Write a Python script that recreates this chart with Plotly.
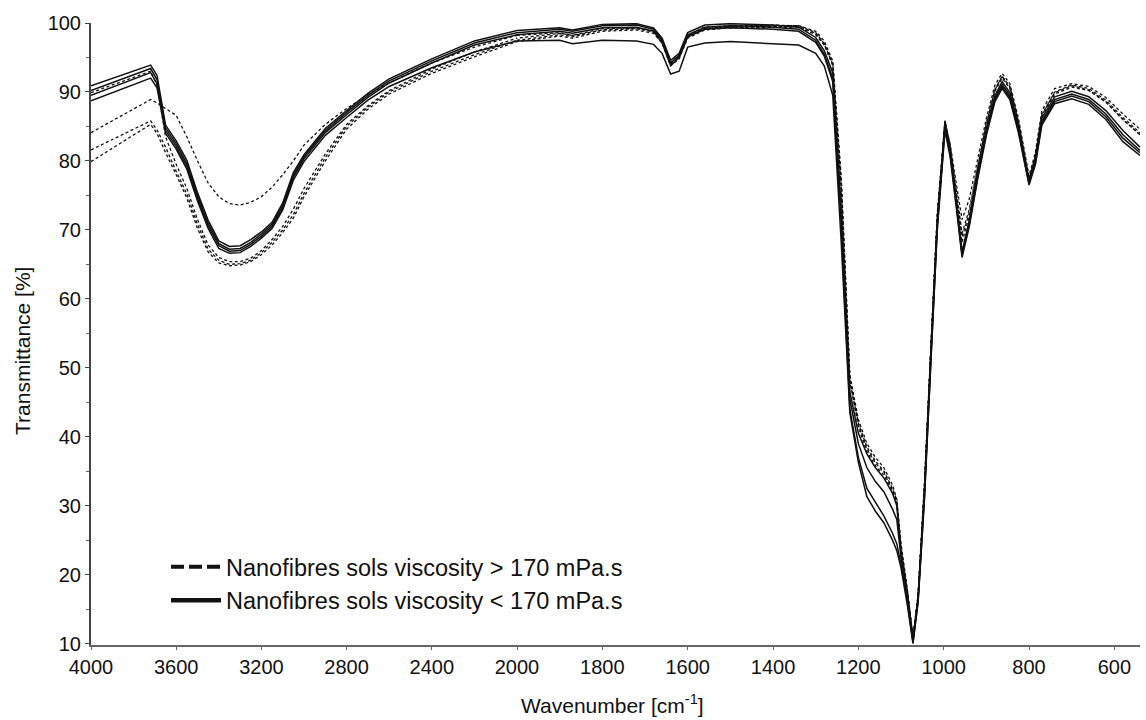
import plotly.graph_objects as go

# ---------------- data ----------------
WN = [4000, 3720, 3690, 3650, 3600, 3550, 3500, 3450, 3400, 3350,
      3300, 3250, 3200, 3150, 3100, 3050, 3000, 2900, 2800, 2700,
      2600, 2500, 2400, 2200, 2000, 1900, 1870, 1800, 1720, 1680,
      1660, 1640, 1620, 1600, 1560, 1500, 1400, 1340, 1300, 1280,
      1260, 1240, 1220, 1200, 1180, 1160, 1140, 1120, 1110, 1100,
      1085, 1072, 1060, 1045, 1030, 1015, 997, 985, 970, 957,
      940, 920, 900, 880, 863, 845, 825, 800, 785, 770,
      740, 700, 660, 620, 580, 540]

# solid: sols viscosity < 170 mPa.s
S1 = [90.9, 93.9, 92.4, 85.2, 82.9, 80.1, 75.4, 71.4, 68.4, 67.6,
      67.7, 68.6, 69.7, 71.1, 73.9, 78.3, 80.9, 84.7, 87.3, 89.8,
      91.9, 93.4, 94.8, 97.4, 98.9, 99.3, 99.0, 99.8, 99.9, 99.3,
      97.8, 94.6, 95.6, 98.6, 99.7, 99.9, 99.7, 99.4, 97.9, 96.0,
      92.8, 73.0, 46.5, 40.5, 37.5, 35.5, 34.0, 31.8, 30.0, 23.0,
      17.2, 10.6, 16.8, 32.5, 52.5, 71.5, 85.8, 81.8, 74.2, 66.8,
      71.4, 78.4, 84.6, 89.5, 91.5, 89.9, 85.1, 77.1, 80.4, 86.2,
      89.3, 90.1, 89.3, 87.3, 84.4, 82.0]
S2 = [90.2, 93.4, 91.8, 84.8, 82.5, 79.6, 75.0, 71.0, 68.0, 67.2,
      67.3, 68.2, 69.4, 70.8, 73.5, 77.9, 80.6, 84.4, 87.0, 89.5,
      91.6, 93.1, 94.5, 97.1, 98.6, 99.1, 98.8, 99.6, 99.7, 99.1,
      97.5, 94.2, 95.3, 98.3, 99.4, 99.6, 99.4, 99.1, 97.5, 95.5,
      92.0, 71.5, 45.5, 39.0, 35.5, 33.5, 32.0, 29.5, 28.0, 22.5,
      16.8, 10.4, 16.5, 32.0, 52.0, 71.0, 85.3, 81.4, 73.8, 66.6,
      71.1, 78.1, 84.3, 89.2, 91.1, 89.5, 84.7, 76.9, 80.1, 85.8,
      88.9, 89.7, 88.9, 86.8, 83.8, 81.5]
S3 = [89.5, 92.8, 91.2, 84.4, 82.1, 79.2, 74.6, 70.6, 67.7, 66.9,
      67.0, 67.9, 69.1, 70.5, 73.2, 77.6, 80.3, 84.1, 86.7, 89.2,
      91.3, 92.8, 94.2, 96.8, 98.3, 98.8, 98.5, 99.3, 99.4, 98.8,
      97.1, 93.8, 95.0, 98.0, 99.1, 99.3, 99.1, 98.8, 97.2, 95.2,
      91.5, 70.5, 44.0, 37.0, 32.5, 30.5, 28.5, 26.0, 24.5, 21.5,
      16.0, 10.2, 16.2, 31.5, 51.5, 70.5, 84.8, 81.0, 73.4, 66.3,
      70.8, 77.8, 84.0, 88.9, 90.8, 89.2, 84.4, 76.7, 79.8, 85.5,
      88.6, 89.4, 88.6, 86.4, 83.3, 81.2]
S4 = [88.7, 92.0, 90.6, 84.0, 81.7, 78.8, 74.2, 70.2, 67.3, 66.6,
      66.7, 67.6, 68.8, 70.2, 72.9, 77.2, 79.9, 83.7, 86.3, 88.8,
      90.8, 92.2, 93.5, 95.8, 97.4, 97.5, 97.0, 97.5, 97.4, 96.9,
      95.6, 92.6, 93.0, 96.5, 97.1, 97.3, 97.0, 96.8, 95.6, 93.8,
      89.5, 68.0, 43.5, 36.3, 31.3, 29.2, 27.5, 25.0, 23.5, 21.0,
      15.5, 10.0, 16.0, 31.0, 51.0, 70.0, 84.4, 80.6, 73.0, 66.0,
      70.5, 77.5, 83.7, 88.6, 90.5, 88.9, 84.1, 76.5, 79.5, 85.2,
      88.3, 89.0, 88.2, 86.0, 82.8, 80.8]

# dashed: sols viscosity > 170 mPa.s
D1 = [89.9, 93.0, 91.0, 83.5, 79.5, 76.0, 71.5, 67.8, 66.0, 65.4,
      65.4, 65.9, 67.0, 68.6, 70.5, 73.0, 76.0, 81.0, 85.3, 88.0,
      90.2, 91.8, 93.3, 95.8, 97.8, 98.5, 98.2, 99.2, 99.3, 98.9,
      97.6, 94.3, 95.3, 98.2, 99.4, 99.6, 99.6, 99.6, 98.6, 97.0,
      94.0, 76.0, 48.0, 42.0, 38.5, 36.5, 35.0, 32.5, 30.8, 24.0,
      17.5, 10.8, 17.0, 33.0, 53.0, 72.0, 85.8, 82.2, 75.5, 69.5,
      73.0, 79.5, 85.5, 90.3, 92.3, 90.7, 85.6, 77.4, 80.8, 86.8,
      89.9, 90.9, 90.3, 88.6, 86.0, 83.8]
D2 = [84.1, 88.9, 88.4, 87.6, 86.6, 83.5, 80.0, 76.8, 74.8, 73.8,
      73.6, 74.0, 74.8, 76.2, 78.0, 80.0, 82.3, 85.3, 87.6, 89.6,
      91.3, 92.8, 94.2, 96.5, 98.2, 98.6, 98.2, 99.0, 99.2, 98.8,
      97.5, 94.2, 95.2, 98.1, 99.2, 99.5, 99.7, 99.6, 98.8, 97.4,
      94.5, 77.5, 49.0, 42.5, 39.0, 37.0, 35.5, 33.0, 31.0, 24.5,
      17.8, 11.0, 17.2, 33.5, 53.5, 72.5, 85.6, 82.5, 76.5, 71.5,
      74.5, 80.3, 86.2, 91.0, 92.7, 91.2, 86.2, 77.8, 81.3, 87.3,
      90.5, 91.2, 90.8, 89.2, 86.8, 84.6]
D3 = [81.6, 85.8, 84.5, 82.0, 78.5, 75.2, 70.8, 67.2, 65.6, 65.0,
      65.1, 65.6, 66.7, 68.2, 70.0, 72.2, 75.3, 80.5, 85.0, 87.8,
      90.0, 91.5, 93.0, 95.4, 97.5, 98.3, 98.0, 99.0, 99.2, 98.7,
      97.3, 94.0, 95.0, 98.0, 99.2, 99.4, 99.5, 99.5, 98.5, 97.0,
      94.2, 76.8, 48.5, 41.8, 38.2, 36.2, 34.8, 32.3, 30.5, 23.8,
      17.4, 10.7, 16.9, 33.0, 53.0, 72.0, 85.5, 82.0, 75.0, 69.0,
      72.5, 79.2, 85.3, 90.4, 92.2, 90.8, 85.7, 77.3, 80.7, 86.6,
      90.0, 91.0, 90.5, 88.8, 86.3, 84.1]
D4 = [79.9, 85.3, 84.0, 81.2, 78.0, 74.6, 70.2, 66.8, 65.2, 64.8,
      64.9, 65.4, 66.4, 67.8, 69.6, 71.7, 74.8, 80.0, 84.6, 87.5,
      89.7, 91.2, 92.7, 95.1, 97.3, 98.1, 97.8, 98.8, 99.0, 98.5,
      97.1, 93.8, 94.8, 97.8, 99.0, 99.3, 99.4, 99.4, 98.3, 96.8,
      93.8, 76.2, 48.2, 41.4, 37.8, 35.8, 34.4, 32.0, 30.3, 23.6,
      17.3, 10.6, 16.8, 32.8, 52.8, 71.7, 85.0, 81.7, 74.5, 68.2,
      72.0, 78.9, 85.0, 90.1, 92.0, 90.5, 85.5, 77.2, 80.5, 86.4,
      89.7, 90.7, 90.2, 88.5, 86.0, 83.8]

SOLID_SERIES = [S1, S2, S3, S4]
DASHED_SERIES = [D1, D2, D3, D4]
LEGEND_NAMES = ["Nanofibres sols viscosity > 170 mPa.s",
                "Nanofibres sols viscosity < 170 mPa.s"]
X_TICKS_HIGH = [4000, 3600, 3200, 2800, 2400]
X_TICKS_LOW = [2000, 1800, 1600, 1400, 1200, 1000, 800, 600]
Y_TICKS = [10, 20, 30, 40, 50, 60, 70, 80, 90, 100]

# ---------------- figure ----------------
W, H = 1146, 720
ML, MR, MT, MB = 91, 6, 23, 75
plot_w = W - ML - MR
plot_h = H - MT - MB
split = 426 / plot_w          # scale change at 2000 cm-1
FONT = "Liberation Sans, Arial, sans-serif"
INK = "#111111"

fig = go.Figure()

def add_series(vals, dash, width):
    for xa in ("x", "x2"):
        fig.add_trace(go.Scatter(
            x=WN, y=vals, mode="lines", xaxis=xa, yaxis="y",
            line=dict(color=INK, width=width, dash=dash),
            showlegend=False, hoverinfo="skip"))

for vals in DASHED_SERIES:
    add_series(vals, "3px,2.5px", 1.3)
for vals in SOLID_SERIES:
    add_series(vals, "solid", 1.5)

# legend entries
fig.add_trace(go.Scatter(x=[None], y=[None], mode="lines", name=LEGEND_NAMES[0],
                         line=dict(color=INK, width=4, dash="13px,5px")))
fig.add_trace(go.Scatter(x=[None], y=[None], mode="lines", name=LEGEND_NAMES[1],
                         line=dict(color=INK, width=4.5)))

axis_common = dict(
    showgrid=False, zeroline=False, showline=True, linecolor="#666666",
    linewidth=1.5, ticks="outside", ticklen=3, tickcolor="#666666",
    tickfont=dict(family=FONT, size=20, color=INK), tickformat="d",
)
fig.update_layout(
    width=W, height=H,
    margin=dict(l=ML, r=MR, t=MT, b=MB, pad=0),
    paper_bgcolor="white", plot_bgcolor="white",
    font=dict(family=FONT, color=INK),
    xaxis=dict(domain=[0, split], range=[4000, 2000], tickvals=X_TICKS_HIGH,
               anchor="y", **axis_common),
    xaxis2=dict(domain=[split, 1], range=[2000, 540], tickvals=X_TICKS_LOW,
                anchor="y", **axis_common),
    yaxis=dict(range=[9.8, 100], tickvals=Y_TICKS, anchor="x",
               showgrid=False, zeroline=False, showline=True,
               linecolor="#444444", linewidth=2, ticks="outside", ticklen=4,
               tickcolor="#444444",
               minor=dict(dtick=5, tick0=0, ticks="outside", ticklen=3,
                          tickcolor="#666666"),
               tickfont=dict(family=FONT, size=20, color=INK)),
    showlegend=True,
    legend=dict(x=(166 - ML) / plot_w, y=(645 - 545) / plot_h,
                xanchor="left", yanchor="top", bgcolor="rgba(0,0,0,0)",
                font=dict(family=FONT, size=23.5, color=INK),
                tracegroupgap=0, itemwidth=50),
    annotations=[
        dict(text="Transmittance [%]", textangle=-90, x=(22 - ML) / plot_w,
             y=(645 - 351) / plot_h, xref="paper", yref="paper",
             showarrow=False, xanchor="center", yanchor="middle",
             font=dict(family=FONT, size=21, color=INK)),
        dict(text="Wavenumber [cm<sup>-1</sup>]", x=(612 - ML) / plot_w,
             y=(645 - 704) / plot_h, xref="paper", yref="paper",
             showarrow=False, xanchor="center", yanchor="middle",
             font=dict(family=FONT, size=21, color=INK)),
    ],
)

fig.write_html(
    "out.html",
    config={"displayModeBar": False},
    post_script="document.body.style.margin='0';document.body.style.overflow='hidden';",
)
